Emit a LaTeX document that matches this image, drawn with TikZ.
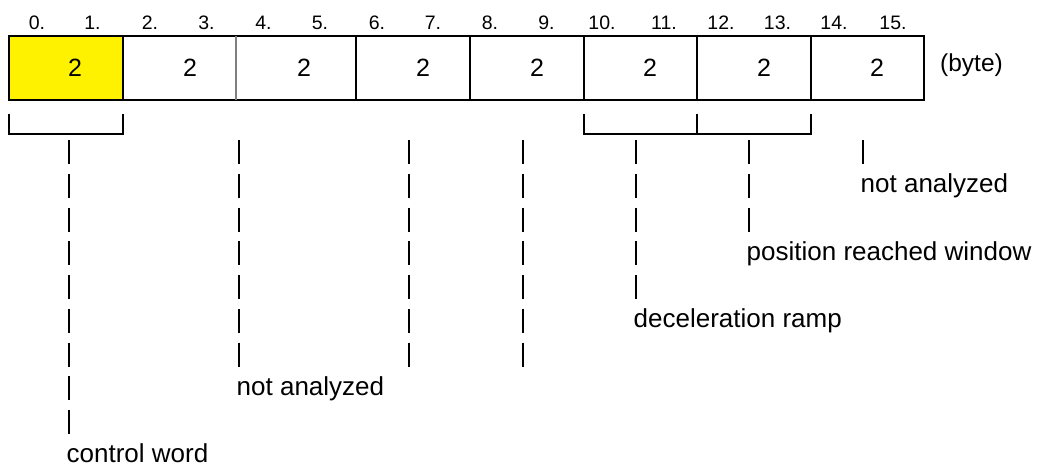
\documentclass[tikz,border=0pt]{standalone}
\usepackage{fontspec}
\setmainfont{Liberation Sans}
\begin{document}
\begin{tikzpicture}[x=1pt,y=-1pt,
  line/.style={line width=2pt},
  thinline/.style={line width=1.5pt, draw=gray},
  bar/.style={line width=2pt, dash pattern=on 24pt off 9.75pt},
  txt/.style={inner sep=0pt, anchor=base west, font=\fontsize{26}{30}\selectfont},
  num/.style={inner sep=0pt, anchor=base, font=\fontsize{25}{30}\selectfont},
  idx/.style={inner sep=0pt, anchor=base, font=\fontsize{19.5}{22}\selectfont},
  unit/.style={inner sep=0pt, anchor=base west, font=\fontsize{24.5}{28}\selectfont}]
\useasboundingbox (0,0) rectangle (1042,469);

% box edges
\foreach \i/\x in {0/9,1/123,2/236,3/356,4/470,5/584,6/697,7/811,8/924}{
  \coordinate (t\i) at (\x,36);
  \coordinate (b\i) at (\x,100);
}
\fill[yellow] (t0) rectangle (b1);
\draw[line] (t0) -- (t8) -- (b8) -- (b0) -- cycle;
\foreach \i in {1,3,4,5,6,7} \draw[line] (t\i) -- (b\i);
\draw[thinline] (t2) -- (b2);

% numbers in the boxes
\foreach \i/\x in {1/75,2/190,3/304,4/423,5/537,6/650,7/764,8/877}
  \node[num] (n\i) at (\x,76.5) {2};

% byte indices
\foreach \i/\x in {0/37,1/92.5,2/150,3/206.5,4/263.5,5/320,6/377,7/433,
                   8/490,9/546.5,10/602,11/664,12/721,13/777.5,14/834,15/893}
  \node[idx] (i\i) at (\x,29) {\i.};

\node[unit] (byte) at (940,71.5) {(byte)};

% brackets
\coordinate (k1a) at (9,114);   \coordinate (k1b) at (9,134);
\coordinate (k1c) at (123,134); \coordinate (k1d) at (123,114);
\draw[line] (k1a) -- (k1b) -- (k1c) -- (k1d);
\coordinate (k2a) at (584,114); \coordinate (k2b) at (584,134);
\coordinate (k2c) at (811,134); \coordinate (k2d) at (811,114);
\coordinate (k2m) at (697,114); \coordinate (k2n) at (697,134);
\draw[line] (k2a) -- (k2b) -- (k2c) -- (k2d);
\draw[line] (k2m) -- (k2n);

% labels
\node[txt] (w1) at (66.5,462.75) {control word};
\node[txt] (w2) at (236.5,395.25) {not analyzed};
\node[txt] (w5) at (633.5,327.75) {deceleration ramp};
\node[txt] (w6) at (746.5,260.25) {position reached window};
\node[txt] (w7) at (860.5,192.75) {not analyzed};

% leader lines
\coordinate (s1) at (69,140);
\coordinate (s2) at (239,140);
\coordinate (s3) at (409,140);
\coordinate (s4) at (523,140);
\coordinate (s5) at (636,140);
\coordinate (s6) at (749,140);
\coordinate (s7) at (863,140);
\coordinate (e3) at (409,366.5);
\coordinate (e4) at (523,366.5);

\draw[bar] (s1) -- (s1 |- w1.north);
\draw[bar] (s2) -- (s2 |- w2.north);
\draw[bar] (s3) -- (e3);
\draw[bar] (s4) -- (e4);
\draw[bar] (s5) -- (s5 |- w5.north);
\draw[bar] (s6) -- (s6 |- w6.north);
\draw[bar] (s7) -- (s7 |- w7.north);
\end{tikzpicture}
\end{document}
